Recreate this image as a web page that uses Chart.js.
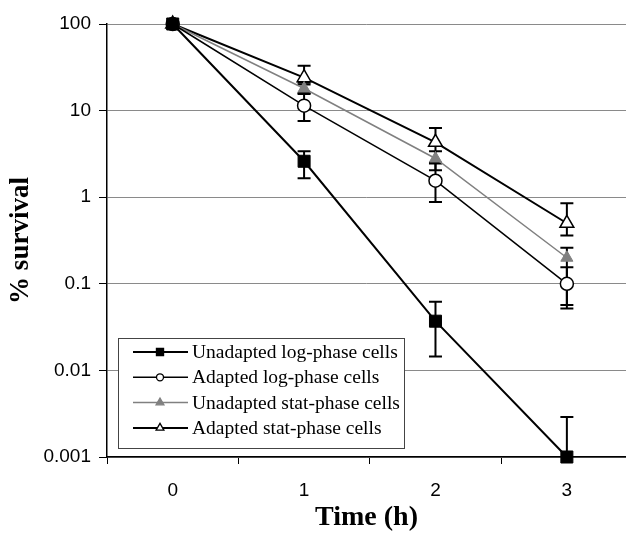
<!DOCTYPE html>
<html>
<head>
<meta charset="utf-8">
<script src="https://cdn.jsdelivr.net/npm/chart.js@4.4.1/dist/chart.umd.min.js"></script>
<style>
  html, body { margin: 0; padding: 0; background: #fff; }
  canvas { display: block; }
</style>
</head>
<body>
<canvas id="survivalChart" width="626" height="543"></canvas>
<script>
// data
const timeHours = [0, 1, 2, 3];
const xTickLabels = ['0', '1', '2', '3'];
const yTickValues = [0.001, 0.01, 0.1, 1, 10, 100];
const yTickLabels = ['0.001', '0.01', '0.1', '1', '10', '100'];
const seriesNames = [
    'Unadapted log-phase cells',
    'Adapted log-phase cells',
    'Unadapted stat-phase cells',
    'Adapted stat-phase cells',
];

const unadaptedLog   = [100, 2.6, 0.037, 0.001];
const unadaptedLogHi = [null, 3.4, 0.062, 0.0029];
const unadaptedLogLo = [null, 1.65, 0.0145, null];

const adaptedLog   = [100, 11.4, 1.55, 0.1];
const adaptedLogHi = [null, 16, 2.5, 0.155];
const adaptedLogLo = [null, 7.6, 0.88, 0.052];

const unadaptedStat   = [100, 18, 2.8, 0.2];
const unadaptedStatHi = [null, 21, 3.4, 0.26];
const unadaptedStatLo = [null, 15.5, 2.05, 0.057];

const adaptedStat   = [100, 24, 4.3, 0.5];
const adaptedStatHi = [null, 33, 6.3, 0.85];
const adaptedStatLo = [null, 20, 2.45, 0.36];

const errorBars = [
    { hi: unadaptedLogHi, lo: unadaptedLogLo },
    { hi: adaptedLogHi, lo: adaptedLogLo },
    { hi: unadaptedStatHi, lo: unadaptedStatLo },
    { hi: adaptedStatHi, lo: adaptedStatLo },
];

const toPoints = (vals) => timeHours.map((t, i) => ({ x: t, y: vals[i] }));

// error bars go under the markers
const errorBarPlugin = {
    id: 'errorBars',
    beforeDatasetsDraw(chart) {
        const { ctx, scales: { x, y } } = chart;
        ctx.save();
        ctx.strokeStyle = '#000';
        ctx.lineWidth = 2;
        chart.data.datasets.forEach((ds, i) => {
            const eb = errorBars[i];
            timeHours.forEach((t, j) => {
                const px = x.getPixelForValue(t);
                const py = y.getPixelForValue(ds.data[j].y);
                [eb.hi[j], eb.lo[j]].forEach((v) => {
                    if (v == null) return;
                    const pv = y.getPixelForValue(v);
                    ctx.beginPath();
                    ctx.moveTo(px, py);
                    ctx.lineTo(px, pv);
                    ctx.moveTo(px - 6.5, pv);
                    ctx.lineTo(px + 6.5, pv);
                    ctx.stroke();
                });
            });
        });
        ctx.restore();
    },
};

// boxed legend inside the plot, bottom left
const boxLegendPlugin = {
    id: 'boxLegend',
    afterDatasetsDraw(chart) {
        const { ctx } = chart;
        const box = { x: 118, y: 338, w: 286, h: 110 };
        ctx.save();
        ctx.fillStyle = '#fff';
        ctx.fillRect(box.x, box.y, box.w, box.h);
        ctx.strokeStyle = '#444';
        ctx.lineWidth = 1;
        ctx.strokeRect(box.x + 0.5, box.y + 0.5, box.w, box.h);

        chart.data.datasets.forEach((ds, i) => {
            const cy = box.y + 14 + i * 25.3;
            ctx.strokeStyle = ds.borderColor;
            ctx.lineWidth = ds.borderWidth;
            ctx.beginPath();
            ctx.moveTo(133, cy);
            ctx.lineTo(188, cy);
            ctx.stroke();

            ctx.fillStyle = ds.pointBackgroundColor;
            ctx.strokeStyle = ds.pointBorderColor;
            ctx.lineWidth = 1.3;
            Chart.helpers.drawPoint(ctx, {
                pointStyle: ds.pointStyle,
                rotation: 0,
                radius: ds.legendRadius,
                borderWidth: 1.3,
            }, 160, cy);

            ctx.fillStyle = '#000';
            ctx.font = '19.5px "Liberation Serif", "Times New Roman", serif';
            ctx.textBaseline = 'middle';
            ctx.textAlign = 'left';
            ctx.fillText(ds.label, 192, cy + 1);
        });
        ctx.restore();
    },
};

new Chart(document.getElementById('survivalChart'), {
    type: 'line',
    data: {
        datasets: [
            {
                label: seriesNames[0],
                data: toPoints(unadaptedLog),
                borderColor: '#000',
                borderWidth: 2,
                pointStyle: 'rect',
                pointRadius: 8.5,
                legendRadius: 5,
                pointBackgroundColor: '#000',
                pointBorderColor: '#000',
                pointBorderWidth: 1,
                clip: false,
            },
            {
                label: seriesNames[1],
                data: toPoints(adaptedLog),
                borderColor: '#000',
                borderWidth: 1.5,
                pointStyle: 'circle',
                pointRadius: 6.5,
                legendRadius: 3.5,
                pointBackgroundColor: '#fff',
                pointBorderColor: '#000',
                pointBorderWidth: 1.5,
                clip: false,
            },
            {
                label: seriesNames[2],
                data: toPoints(unadaptedStat),
                borderColor: '#808080',
                borderWidth: 1.5,
                pointStyle: 'triangle',
                pointRadius: 7,
                legendRadius: 4.5,
                pointBackgroundColor: '#808080',
                pointBorderColor: '#808080',
                pointBorderWidth: 1,
                clip: false,
            },
            {
                label: seriesNames[3],
                data: toPoints(adaptedStat),
                borderColor: '#000',
                borderWidth: 2,
                pointStyle: 'triangle',
                pointRadius: 8,
                legendRadius: 4.5,
                pointBackgroundColor: '#fff',
                pointBorderColor: '#000',
                pointBorderWidth: 1.5,
                clip: false,
            },
        ],
    },
    options: {
        responsive: false,
        devicePixelRatio: 1,
        animation: false,
        layout: { autoPadding: false, padding: { top: 24, right: 0, bottom: 0, left: 0 } },
        plugins: {
            legend: { display: false },
            tooltip: { enabled: false },
        },
        scales: {
            x: {
                type: 'linear',
                min: -0.5,
                max: 3.45,
                afterBuildTicks: (s) => {
                    s.ticks = [-0.5, 0, 0.5, 1, 1.5, 2, 2.5, 3].map((v) => ({ value: v }));
                },
                afterFit: (s) => {
                    s.height = 86;
                    s.paddingLeft = 0;
                    s.paddingRight = 0;
                },
                ticks: {
                    autoSkip: false,
                    maxRotation: 0,
                    padding: 15,
                    color: '#000',
                    font: { family: '"Liberation Sans", Arial, sans-serif', size: 19 },
                    callback: (v) => (Number.isInteger(v) ? xTickLabels[v] : ''),
                },
                grid: {
                    drawOnChartArea: false,
                    tickLength: 7,
                    tickColor: (c) => (c.tick && Number.isInteger(c.tick.value) ? 'rgba(0,0,0,0)' : '#000'),
                },
                border: { color: '#000', width: 1.5 },
                title: {
                    display: true,
                    text: 'Time (h)',
                    color: '#000',
                    padding: { top: 0, bottom: 8 },
                    font: { family: '"Liberation Serif", "Times New Roman", serif', size: 28, weight: 'bold' },
                },
            },
            y: {
                type: 'logarithmic',
                min: 0.001,
                max: 100,
                afterBuildTicks: (s) => {
                    s.ticks = yTickValues.map((v) => ({ value: v }));
                },
                afterFit: (s) => {
                    s.width = 107;
                    s.paddingTop = 0;
                    s.paddingBottom = 0;
                },
                ticks: {
                    padding: 8,
                    color: '#000',
                    font: { family: '"Liberation Sans", Arial, sans-serif', size: 19 },
                    callback: (v) => {
                        const i = yTickValues.indexOf(v);
                        return i >= 0 ? yTickLabels[i] : '';
                    },
                },
                grid: {
                    color: '#8a8a8a',
                    lineWidth: 1,
                    tickLength: 8,
                    tickColor: '#000',
                },
                border: { color: '#000', width: 1.5 },
                title: {
                    display: true,
                    text: '% survival',
                    color: '#000',
                    padding: { top: 5, bottom: 0 },
                    font: { family: '"Liberation Serif", "Times New Roman", serif', size: 27, weight: 'bold' },
                },
            },
        },
    },
    plugins: [errorBarPlugin, boxLegendPlugin],
});
</script>
</body>
</html>
